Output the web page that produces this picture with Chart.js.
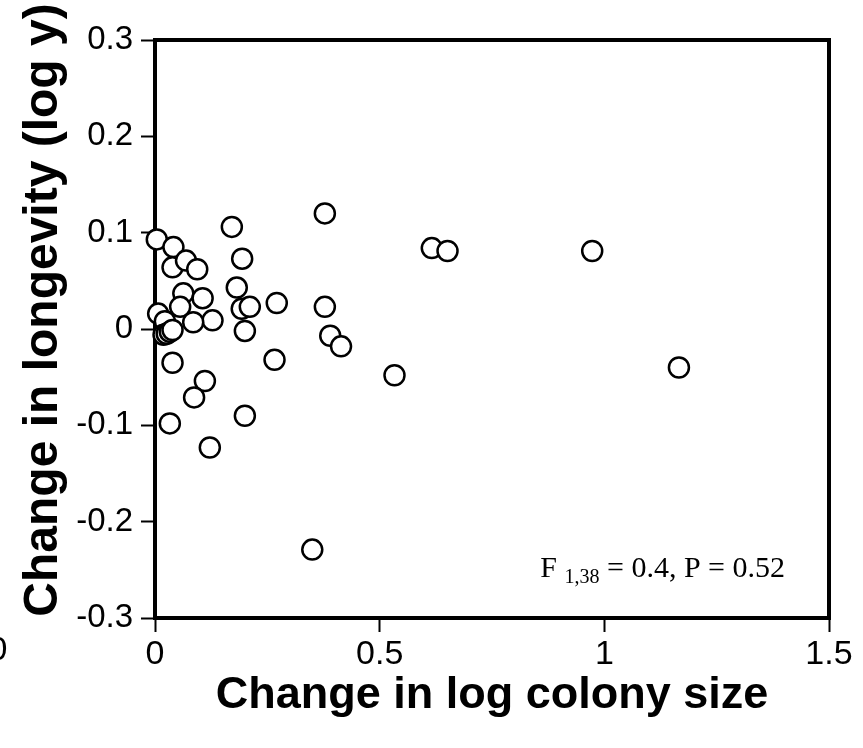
<!DOCTYPE html>
<html>
<head>
<meta charset="utf-8">
<script src="https://cdn.jsdelivr.net/npm/chart.js@4.4.1/dist/chart.umd.min.js"></script>
<style>
  html, body { margin: 0; padding: 0; background: #fff; overflow: hidden; }
  canvas { display: block; }
</style>
</head>
<body>
<canvas id="chart" width="863" height="748"></canvas>
<script>
// change in log colony size (x) vs change in longevity (y)
const xVals = [0.004, 0.041, 0.039, 0.069, 0.094, 0.171, 0.194, 0.182, 0.193, 0.211,
               0.271, 0.200, 0.266, 0.063, 0.106, 0.056, 0.007, 0.128, 0.085, 0.022,
               0.019, 0.026, 0.033, 0.039, 0.039, 0.111, 0.087, 0.033, 0.200, 0.122,
               0.378, 0.616, 0.651, 0.378, 0.390, 0.414, 0.533, 0.350, 0.973, 1.166];
const yVals = [0.093, 0.085, 0.064, 0.071, 0.062, 0.106, 0.073, 0.043, 0.021, 0.023,
               0.027, -0.002, -0.032, 0.037, 0.032, 0.023, 0.016, 0.009, 0.007, 0.008,
               -0.006, -0.005, -0.003, -0.001, -0.035, -0.054, -0.071, -0.098, -0.090, -0.123,
               0.120, 0.084, 0.081, 0.023, -0.007, -0.018, -0.048, -0.229, 0.081, -0.040];

const xTicks = ['0', '0.5', '1', '1.5'];
const xTitle = 'Change in log colony size';
const yTitle = 'Change in longevity (log y)';
const statMain = 'F';
const statSub = '1,38';
const statRest = ' = 0.4, P = 0.52';

const sans = '"Liberation Sans", Arial, Helvetica, sans-serif';
const serif = '"Liberation Serif", "Times New Roman", serif';
Chart.defaults.font.family = sans;
Chart.defaults.color = '#000';

const points = xVals.map((x, i) => ({ x: x, y: yVals[i] }));

const extras = {
  id: 'extras',
  afterDraw(chart) {
    const c = chart.ctx;
    const a = chart.chartArea;
    c.save();
    // top and right frame
    c.strokeStyle = '#000';
    c.lineWidth = 4;
    c.beginPath();
    c.moveTo(a.left - 2, a.top);
    c.lineTo(a.right, a.top);
    c.lineTo(a.right, a.bottom + 2);
    c.stroke();

    // y title
    c.fillStyle = '#000';
    c.font = 'bold 48px ' + sans;
    c.textAlign = 'center';
    c.textBaseline = 'alphabetic';
    c.translate(57, 310);
    c.rotate(-Math.PI / 2);
    c.fillText(yTitle, 0, 0);
    c.setTransform(1, 0, 0, 1, 0, 0);

    // stat annotation
    c.textAlign = 'left';
    c.font = '30px ' + serif;
    const wMain = c.measureText(statMain + ' ').width;
    const wRest = c.measureText(statRest).width;
    c.font = '20px ' + serif;
    const wSub = c.measureText(statSub).width;
    let x = a.right - 44 - (wMain + wSub + wRest);
    const base = a.bottom - 41;
    c.font = '30px ' + serif;
    c.fillText(statMain + ' ', x, base);
    x += wMain;
    c.font = '20px ' + serif;
    c.fillText(statSub, x, base + 6);
    x += wSub;
    c.font = '30px ' + serif;
    c.fillText(statRest, x, base);

    // cut-off label at the left edge
    c.font = '34px ' + sans;
    c.textAlign = 'center';
    c.fillText('0', -2, 660);
    c.restore();
  }
};

new Chart(document.getElementById('chart').getContext('2d'), {
  type: 'scatter',
  data: {
    datasets: [{
      data: points,
      pointRadius: 10,
      pointHoverRadius: 10,
      pointBackgroundColor: '#fff',
      pointBorderColor: '#000',
      pointBorderWidth: 2.5,
      clip: false
    }]
  },
  options: {
    responsive: false,
    animation: false,
    events: [],
    layout: { padding: { top: 40, right: 34, left: 0, bottom: 0 } },
    plugins: { legend: { display: false }, tooltip: { enabled: false } },
    scales: {
      x: {
        type: 'linear',
        min: 0, max: 1.5,
        z: 1,
        ticks: {
          stepSize: 0.5, color: '#000', font: { size: 34 }, padding: 2, maxRotation: 0,
          callback: (v, i) => xTicks[i]
        },
        grid: { drawOnChartArea: false, tickLength: 14, tickWidth: 2, tickColor: '#000' },
        border: { color: '#000', width: 4 },
        title: {
          display: true, text: xTitle, color: '#000',
          font: { size: 45, weight: 'bold' },
          padding: { top: 0, bottom: 25 }
        },
        afterFit: s => { s.height = 130; }
      },
      y: {
        type: 'linear',
        min: -0.3, max: 0.3,
        z: 1,
        ticks: {
          stepSize: 0.1, color: '#000', font: { size: 33 }, padding: 8,
          callback: v => String(Math.round(v * 10) / 10)
        },
        grid: { drawOnChartArea: false, tickLength: 14, tickWidth: 2, tickColor: '#000' },
        border: { color: '#000', width: 4 },
        afterFit: s => { s.width = 155; }
      }
    }
  },
  plugins: [extras]
});
</script>
</body>
</html>
